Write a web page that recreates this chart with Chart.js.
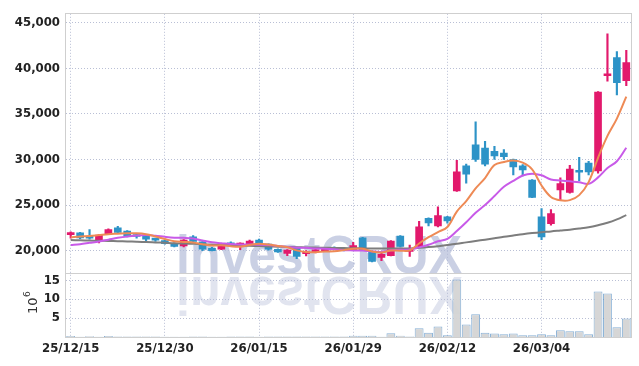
<!DOCTYPE html>
<html>
<head>
<meta charset="utf-8">
<script src="https://cdn.jsdelivr.net/npm/chart.js@4.4.1/dist/chart.umd.min.js"></script>
<style>
  html, body { margin: 0; padding: 0; background: #fff; }
  #wrap { width: 639px; height: 366px; }
</style>
</head>
<body>
<div id="wrap"><canvas id="candleChart" width="639" height="366"></canvas></div>
<script>
var dates = ['25/12/15','25/12/16','25/12/17','25/12/18','25/12/19','25/12/22','25/12/23','25/12/24','25/12/26','25/12/29',
  '25/12/30','26/01/02','26/01/05','26/01/06','26/01/07','26/01/08','26/01/09','26/01/12','26/01/13','26/01/14',
  '26/01/15','26/01/16','26/01/19','26/01/20','26/01/21','26/01/22','26/01/23','26/01/26','26/01/27','26/01/28',
  '26/01/29','26/01/30','26/02/02','26/02/03','26/02/04','26/02/05','26/02/06','26/02/09','26/02/10','26/02/11',
  '26/02/12','26/02/13','26/02/19','26/02/20','26/02/23','26/02/24','26/02/25','26/02/26','26/02/27','26/03/03',
  '26/03/04','26/03/05','26/03/06','26/03/09','26/03/10','26/03/11','26/03/12','26/03/13','26/03/16','26/03/17'];

var opens = [21750,21950,21500,21100,21870,22500,22150,21750,21650,21200,
  21100,20800,20500,21500,20950,20250,20150,20850,20600,20750,
  21150,20700,20150,19700,20250,19650,19850,20000,20350,20250,
  20100,21400,19900,19250,19450,21600,19900,20450,23550,22700,
  23700,26550,29300,31600,31250,30900,30700,30000,29300,27750,
  23700,22950,26650,26400,28650,29600,28750,39200,41200,38650];
var highs = [22050,22000,22300,21750,22400,22650,22200,21800,21700,21350,
  21150,20850,21200,21650,21000,20350,20700,20950,20850,21150,
  21250,20750,20200,20100,20300,20000,20150,20350,20400,20300,
  20900,21450,19950,19700,21100,21650,20600,23200,23600,24800,
  23750,29900,29500,34150,32000,31450,31100,30050,29450,27800,
  24600,24500,28000,29350,30250,29800,37450,43800,41850,42000];
var lows = [21350,21300,21250,20850,21800,21950,21500,21350,21000,21000,
  20700,20400,20400,20950,20000,19950,20100,20450,20100,20700,
  20650,20050,19800,19450,19100,19400,19750,19950,20100,19950,
  20050,20000,18750,18900,19400,20400,19350,20400,22700,22600,
  23000,26500,27400,29800,29300,30000,30000,28300,28200,25800,
  21200,22800,25500,26300,27650,28300,28500,38600,37100,38100];
var closes = [21950,21400,21350,21700,22300,22000,21650,21550,21250,21150,
  20750,20450,21150,21000,20150,20000,20600,20600,20800,21050,
  20700,20150,19850,20050,19350,19800,20050,20250,20150,20000,
  20550,20070,18800,19600,21050,20450,20200,22600,23050,23850,
  23250,28650,28400,30000,29500,30400,30300,29200,28850,25850,
  21500,24050,27350,28950,28600,28650,37400,39350,38450,40650];

// volume, millions of shares
var volumes = [0.25,0.05,0.2,0.05,0.25,0.1,0.1,0.1,0.1,0.1,
  0.05,0.05,0.05,0.15,0.15,0.05,0.05,0.1,0.1,0.1,
  0.05,0.1,0.1,0.1,0.1,0.1,0.1,0.1,0.1,0.1,
  0.3,0.3,0.3,0.05,1.0,0.35,0.1,2.3,1.1,2.8,
  0.45,15.2,3.3,6.0,1.1,0.9,0.7,0.9,0.45,0.45,
  0.7,0.45,1.75,1.5,1.5,0.7,12.0,11.5,2.6,4.9];

// moving averages
var ma5 = [21450,21550,21600,21700,21800,21850,21900,21900,21800,21550,
  21270,21030,20950,20900,20700,20550,20580,20470,20430,20610,
  20750,20660,20510,20360,20020,19840,19820,19900,19920,20050,
  20200,20200,19910,19800,20010,19990,20020,20780,21470,22030,
  22590,24280,25440,26830,27960,29390,29720,29880,29650,28920,
  27140,25890,25520,25540,26090,27520,30190,32590,34490,36900];
var ma10 = [20600,20700,20850,21000,21200,21400,21550,21650,21700,21630,
  21510,21420,21400,21330,21110,20910,20810,20710,20670,20660,
  20650,20620,20490,20400,20320,20300,20240,20210,20140,20040,
  20020,20010,19910,19860,20030,20100,20110,20350,20640,21020,
  21290,22150,23110,24150,25000,25990,27000,27660,28240,28440,
  28270,27810,27700,27600,27510,27330,28040,29060,29810,31290];
var ma60 = [21150,21130,21100,21080,21060,21030,21000,20980,20950,20900,
  20850,20800,20780,20750,20700,20660,20620,20580,20550,20520,
  20490,20460,20430,20400,20370,20350,20330,20310,20290,20270,
  20260,20250,20230,20220,20220,20230,20240,20300,20380,20480,
  20600,20760,20900,21050,21200,21360,21520,21660,21800,21920,
  22020,22100,22200,22300,22420,22560,22780,23050,23430,23900];

var priceTicks = [20000, 25000, 30000, 35000, 40000, 45000];
var volumeTicks = [5, 10, 15];

var upColor = '#e2196c';
var downColor = '#2d93c7';
var gridColor = '#b9bfd5';
var tickFont = { family: '"Liberation Sans Narrow", "DejaVu Sans Condensed", Roboto, sans-serif', size: 13, weight: 'bold' };

function candleColor(ctx) {
  var i = ctx.dataIndex;
  return closes[i] >= opens[i] ? upColor : downColor;
}

var watermark = {
  id: 'watermark',
  beforeDatasetsDraw: function(chart) {
    var c = chart.ctx;
    var base = chart.scales.y.bottom;
    c.save();
    c.font = 'bold 54px "Liberation Sans", Arial, sans-serif';
    c.textBaseline = 'alphabetic';
    var w = c.measureText('investCRUX').width;
    c.translate(176, base);
    c.scale(286 / w, 1);
    c.fillStyle = 'rgba(180,188,216,0.7)';
    c.fillText('investCRUX', 0, 0);
    c.scale(1, -1);
    c.fillStyle = 'rgba(180,188,216,0.4)';
    c.fillText('investCRUX', 0, -4);
    c.restore();
  }
};

var frame = {
  id: 'frame',
  afterDraw: function(chart) {
    var c = chart.ctx, a = chart.chartArea;
    c.save();
    c.strokeStyle = '#cfcfcf';
    c.lineWidth = 1;
    c.strokeRect(Math.round(a.left) - 0.5, Math.round(a.top) - 0.5, Math.round(a.right - a.left) + 1, Math.round(a.bottom - a.top) + 1);
    var sep = Math.round(chart.scales.y.bottom) + 0.5;
    c.beginPath();
    c.moveTo(a.left, sep);
    c.lineTo(a.right, sep);
    c.stroke();
    // volume unit label
    c.translate(37, 306);
    c.rotate(-Math.PI / 2);
    c.fillStyle = '#333';
    c.font = '13px "DejaVu Sans", sans-serif';
    c.textBaseline = 'alphabetic';
    c.fillText('10', -8, 0);
    c.font = '9px "DejaVu Sans", sans-serif';
    c.fillText('6', 9, -7);
    c.restore();
  }
};

var ctx = document.getElementById('candleChart');
var candleChart = new Chart(ctx, {
  type: 'bar',
  data: {
    labels: dates,
    datasets: [
      { type: 'line', label: 'MA5', data: ma5, borderColor: '#ee8a55', borderWidth: 2, pointRadius: 0, tension: 0.35, yAxisID: 'y', order: 0 },
      { type: 'line', label: 'MA10', data: ma10, borderColor: '#c85ae8', borderWidth: 2, pointRadius: 0, tension: 0.35, yAxisID: 'y', order: 1 },
      { type: 'line', label: 'MA60', data: ma60, borderColor: '#7d7d7d', borderWidth: 2, pointRadius: 0, tension: 0.35, yAxisID: 'y', order: 2 },
      {
        label: 'body',
        data: opens.map(function(o, i) { return [o, closes[i]]; }),
        backgroundColor: candleColor,
        barThickness: 7,
        minBarLength: 2,
        grouped: false,
        yAxisID: 'y',
        order: 3
      },
      {
        label: 'wick',
        data: lows.map(function(l, i) { return [l, highs[i]]; }),
        backgroundColor: candleColor,
        barThickness: 1.5,
        grouped: false,
        yAxisID: 'y',
        order: 4
      },
      {
        label: 'volume',
        data: volumes,
        backgroundColor: 'rgba(212,212,212,0.95)',
        borderColor: 'rgba(95,150,200,0.75)',
        borderWidth: 1,
        barPercentage: 1,
        categoryPercentage: 0.94,
        grouped: false,
        yAxisID: 'v',
        order: 5
      }
    ]
  },
  options: {
    responsive: false,
    animation: false,
    layout: { padding: { top: 9, right: 8, left: 0, bottom: 0 } },
    plugins: {
      legend: { display: false },
      tooltip: { enabled: false }
    },
    scales: {
      x: {
        type: 'category',
        offset: true,
        afterFit: function(s) { s.height = 29; },
        grid: {
          offset: false,
          drawTicks: false,
          color: function(c) { return c.index % 10 === 0 ? gridColor : 'transparent'; }
        },
        border: { display: false, dash: [1, 2] },
        ticks: {
          autoSkip: false,
          maxRotation: 0,
          padding: 4,
          color: '#222',
          font: tickFont,
          callback: function(v, i) { return i % 10 === 0 ? this.getLabelForValue(v) : ''; }
        }
      },
      v: {
        stack: 'main',
        stackWeight: 64.5,
        position: 'left',
        min: 0,
        max: 16.8,
        afterFit: function(s) { s.width = 66; },
        afterBuildTicks: function(s) { s.ticks = volumeTicks.map(function(v) { return { value: v }; }); },
        grid: { drawTicks: false, color: gridColor },
        border: { display: false, dash: [1, 2] },
        ticks: {
          autoSkip: false,
          padding: 6,
          color: '#222',
          font: tickFont
        }
      },
      y: {
        stack: 'main',
        stackWeight: 263,
        position: 'left',
        min: 17500,
        max: 46000,
        afterFit: function(s) { s.width = 66; },
        afterBuildTicks: function(s) { s.ticks = priceTicks.map(function(v) { return { value: v }; }); },
        grid: { drawTicks: false, color: gridColor },
        border: { display: false, dash: [1, 2] },
        ticks: {
          autoSkip: false,
          padding: 6,
          color: '#222',
          font: tickFont,
          callback: function(v) { return Number(v).toLocaleString('en-US'); }
        }
      }
    }
  },
  plugins: [watermark, frame]
});
</script>
</body>
</html>
